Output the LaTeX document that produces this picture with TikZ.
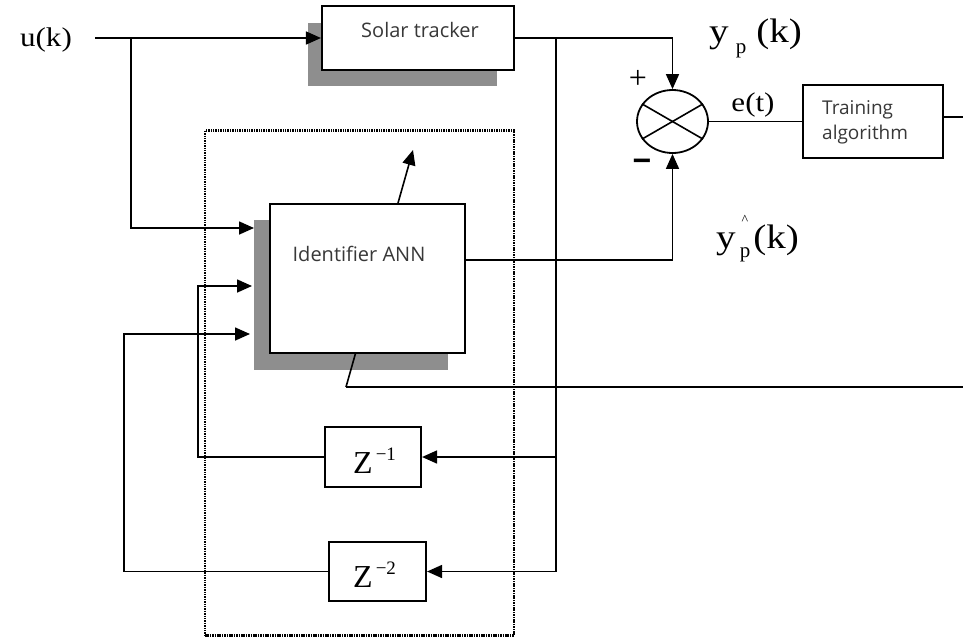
\documentclass[tikz,border=0pt]{standalone}
\usepackage{fontspec}
\usetikzlibrary{arrows.meta,shapes.geometric}
\newfontfamily\sansf{Open Sans}
\newfontfamily\serf{Liberation Serif}
\newfontfamily\serfw[FakeStretch=1.15]{Liberation Serif}
\newfontfamily\sanslab{Liberation Sans}
\definecolor{shadowgray}{HTML}{8E8E8E}
\definecolor{txtgray}{HTML}{383838}
\tikzset{
  blk/.style={draw, line width=2.1pt, fill=white, inner sep=0pt},
  shd/.style={fill=shadowgray, draw=none, inner sep=0pt},
  conn/.style={line width=1.6pt},
  arr/.style={conn, -{Triangle[length=15pt,width=13pt]}},
  boxtxt/.style={font=\sansf\fontsize{20}{24}\selectfont, text=txtgray, inner sep=0pt},
  grpbox/.style={draw, line width=2.2pt, dash pattern=on 1.5pt off 0.9pt, inner sep=0pt},
}
\begin{document}
\begin{tikzpicture}[x=1pt,y=-1pt]
\fill[white] (0,0) rectangle (963,638);
\useasboundingbox (0,0) rectangle (963,638);

% group (dotted) box
\node[grpbox, minimum width=309pt, minimum height=505pt] (grp) at (359.5,383) {};

% shadows
\node[shd, minimum width=189pt, minimum height=63pt] (solarsh) at (402.5,54.5) {};
\node[shd, minimum width=194pt, minimum height=150pt] (annsh) at (351,295) {};

% adaptation arrow (behind the ANN box)
\coordinate (adj0) at (346,387);
\coordinate (adj1) at (413,150);
\coordinate (adjend) at (963,387);
\draw[arr] (adj0) -- (adj1);
\draw[conn, line width=2.4pt] (adj0) -- (adjend);

% blocks
\node[blk, minimum width=192pt, minimum height=64pt] (solar) at (418,38) {};
\node[boxtxt, anchor=base] (solart) at (420,37) {Solar tracker};

\node[blk, minimum width=195pt, minimum height=149pt] (ann) at (367.5,278.5) {};
\node[boxtxt, anchor=base] (annt) at (359,261) {Identifier ANN};

\node[blk, minimum width=140pt, minimum height=73pt] (train) at (873,121.5) {};
\node[boxtxt, font=\sansf\fontsize{19}{23}\selectfont, anchor=base west] (train1) at (822,114) {Training};
\node[boxtxt, font=\sansf\fontsize{19}{23}\selectfont, anchor=base west] (train2) at (822,139) {algorithm};

\node[blk, minimum width=96pt, minimum height=60pt] (z1) at (373,457) {};
\node[anchor=base west, inner sep=0pt] (z1t) at (353,473)
  {\serf\fontsize{32}{32}\selectfont Z\hspace{3pt}\raisebox{13pt}{\fontsize{19}{19}\selectfont −1}};
\node[blk, minimum width=97pt, minimum height=59pt] (z2) at (377.5,571.5) {};
\node[anchor=base west, inner sep=0pt] (z2t) at (353,587)
  {\serf\fontsize{32}{32}\selectfont Z\hspace{3pt}\raisebox{13pt}{\fontsize{19}{19}\selectfont −2}};

% summing junction
\node[draw, ellipse, line width=1.8pt, minimum width=71pt, minimum height=63pt, inner sep=0pt, fill=white] (sum) at (672.5,121.5) {};
\draw[conn] (sum.150) -- (sum.-30);
\draw[conn] (sum.30) -- (sum.210);
\node[inner sep=0pt, font=\serf\fontsize{32}{32}\selectfont] (plus) at (638,79) {+};
\node[inner sep=0pt, font=\sanslab\bfseries\fontsize{32}{32}\selectfont] (minus) at (642,165) {−};

% labels
\node[anchor=base, inner sep=0pt, font=\serfw\fontsize{27}{27}\selectfont] (ulbl) at (46,46) {u(k)};
\node[anchor=base west, inner sep=0pt] (yplbl) at (709,42)
  {{\serfw\fontsize{34}{34}\selectfont y}\hspace{7pt}\raisebox{-11pt}{\serf\fontsize{21}{21}\selectfont p}\hspace{10pt}{\serfw\fontsize{34}{34}\selectfont (k)}};
\node[anchor=base west, inner sep=0pt] (yhlbl) at (716,248)
  {{\serfw\fontsize{34}{34}\selectfont y}\hspace{4pt}\raisebox{-9pt}{\serf\fontsize{21}{21}\selectfont p}\hspace{3pt}{\serfw\fontsize{34}{34}\selectfont (k)}};
\node[inner sep=0pt, font=\serf\fontsize{14}{14}\selectfont] (yhhat) at (745,220) {\^{}};
\node[anchor=base, inner sep=0pt, font=\serfw\fontsize{27}{27}\selectfont] (elbl) at (753,111) {e(t)};

% connectors
\coordinate (ustart) at (95,38);
\coordinate (ubr) at (131,38);
\coordinate (in1) at (254,228);
\draw[arr] (ustart) -- (solar.west);
\draw[arr] (ubr) |- (in1);

\draw[arr] (solar.east) -| (sum.north);
\coordinate (ybr) at (556,38);
\coordinate (zb1) at (556,457);
\draw[arr] (ybr) |- (z2.east);
\draw[arr] (zb1) -- (z1.east);

\draw[conn] (sum.east) -- (train.west);
\coordinate (tout) at (963,117);
\draw[conn] (train.east |- tout) -- (tout);

\coordinate (yh) at (674,260);
\draw[arr] (ann.east |- yh) -| (sum.south);

\coordinate (fb1) at (198,286);
\coordinate (in2) at (252,286);
\draw[arr] (z1.west) -| (fb1) -- (in2);
\coordinate (fb2) at (124,334);
\coordinate (in3) at (250,334);
\draw[arr] (z2.west) -| (fb2) -- (in3);
\end{tikzpicture}
\end{document}
